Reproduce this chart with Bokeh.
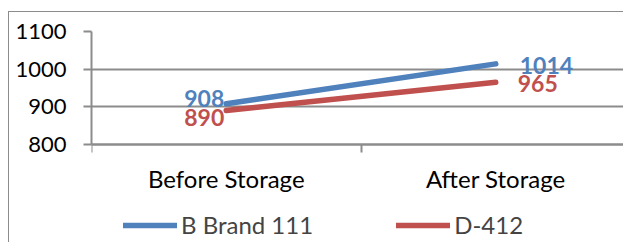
from bokeh.plotting import figure
from bokeh.models import Range1d, FixedTicker, Legend, LegendItem, ColumnDataSource
from bokeh.embed import file_html
from bokeh.resources import INLINE
from bokeh.core.properties import value

# ---- data ----
categories = ["Before Storage", "After Storage"]
series_names = ["B Brand 111", "D-412"]
b_brand_111 = [908, 1014]
d_412 = [890, 965]
y_ticks = [800, 900, 1000, 1100]

# ---- style / geometry ----
BLUE = "#4F81BD"
RED = "#C0504D"
GRID = "#8C8C8C"
FONT = "Lato"
W, H = 615, 231          # canvas size
TOP, LEFT = 19, 82       # frame offsets inside canvas
AXIS_PX = 113            # pixel height of the value axis span
CAT_PX = 269.5           # pixel width of one category

y_lo, y_hi = y_ticks[0], y_ticks[-1]
frame_h = H - TOP
units_per_px = (y_hi - y_lo) / AXIS_PX
y_start = y_hi - frame_h * units_per_px
frame_w = W - LEFT

x_idx = list(range(len(categories)))

p = figure(width=W, height=H, output_backend="svg", toolbar_location=None,
           x_range=Range1d(-0.5, -0.5 + frame_w / CAT_PX), y_range=Range1d(y_start, y_hi),
           min_border_left=LEFT, min_border_right=0, min_border_top=TOP, min_border_bottom=0)
p.styles = {"border-top": "1px solid #8C8C8C", "border-left": "1px solid #8C8C8C"}
p.margin = (11, 0, 0, 8)
p.outline_line_color = None
p.background_fill_color = "white"
p.border_fill_color = "white"

# x axis sits on the 800 line: labels at category centres, ticks at boundaries
xa = p.xaxis[0]
xa.fixed_location = y_lo
xa.ticker = FixedTicker(ticks=x_idx, minor_ticks=[i - 0.5 for i in range(len(categories) + 1)])
xa.major_label_overrides = {i: c for i, c in enumerate(categories)}
xa.major_tick_out = 0
xa.major_tick_in = 0
xa.minor_tick_out = 8
xa.minor_tick_in = 0
xa.minor_tick_line_color = GRID
xa.minor_tick_line_width = 2
xa.axis_line_color = GRID
xa.axis_line_width = 2
xa.major_label_standoff = 11
xa.major_label_text_font = FONT
xa.major_label_text_font_size = "24px"
xa.major_label_text_color = "black"

ya = p.yaxis[0]
ya.bounds = (y_lo, y_hi)
ya.ticker = FixedTicker(ticks=y_ticks)
ya.major_tick_out = 8
ya.major_tick_in = 0
ya.minor_tick_out = 0
ya.minor_tick_in = 0
ya.major_tick_line_color = GRID
ya.major_tick_line_width = 2
ya.axis_line_color = GRID
ya.axis_line_width = 2
ya.major_label_standoff = 17
ya.major_label_text_font = FONT
ya.major_label_text_font_size = "22px"
ya.major_label_text_color = "black"

p.xgrid.visible = False
p.ygrid.ticker = FixedTicker(ticks=y_ticks)
p.ygrid.grid_line_color = GRID
p.ygrid.grid_line_width = 2

r_b = p.line(x_idx, b_brand_111, line_width=5.5, line_color=BLUE, line_cap="round")
r_d = p.line(x_idx, d_412, line_width=5.5, line_color=RED, line_cap="round")

src_b = ColumnDataSource(dict(x=x_idx, y=b_brand_111, t=[str(v) for v in b_brand_111],
                              xo=[-2, 24], yo=[-5, 2], al=["right", "left"]))
src_d = ColumnDataSource(dict(x=x_idx, y=d_412, t=[str(v) for v in d_412],
                              xo=[-2, 22], yo=[7, 1], al=["right", "left"]))
for src, col in ((src_b, BLUE), (src_d, RED)):
    p.text(x="x", y="y", text="t", x_offset="xo", y_offset="yo", text_align="al",
           text_baseline="middle", text_font=value(FONT), text_font_style="bold",
           text_font_size="23px", text_color=col, source=src)

legend = Legend(items=[LegendItem(label=series_names[0], renderers=[r_b]),
                       LegendItem(label=series_names[1], renderers=[r_d])],
                location=(32, 4), orientation="horizontal",
                glyph_width=54, glyph_height=20, label_standoff=4,
                spacing=83, padding=0, margin=0,
                border_line_alpha=0, background_fill_alpha=0,
                label_text_font=FONT, label_text_font_size="24px")
p.add_layout(legend, "center")

open("out.html", "w").write(file_html(p, INLINE))
